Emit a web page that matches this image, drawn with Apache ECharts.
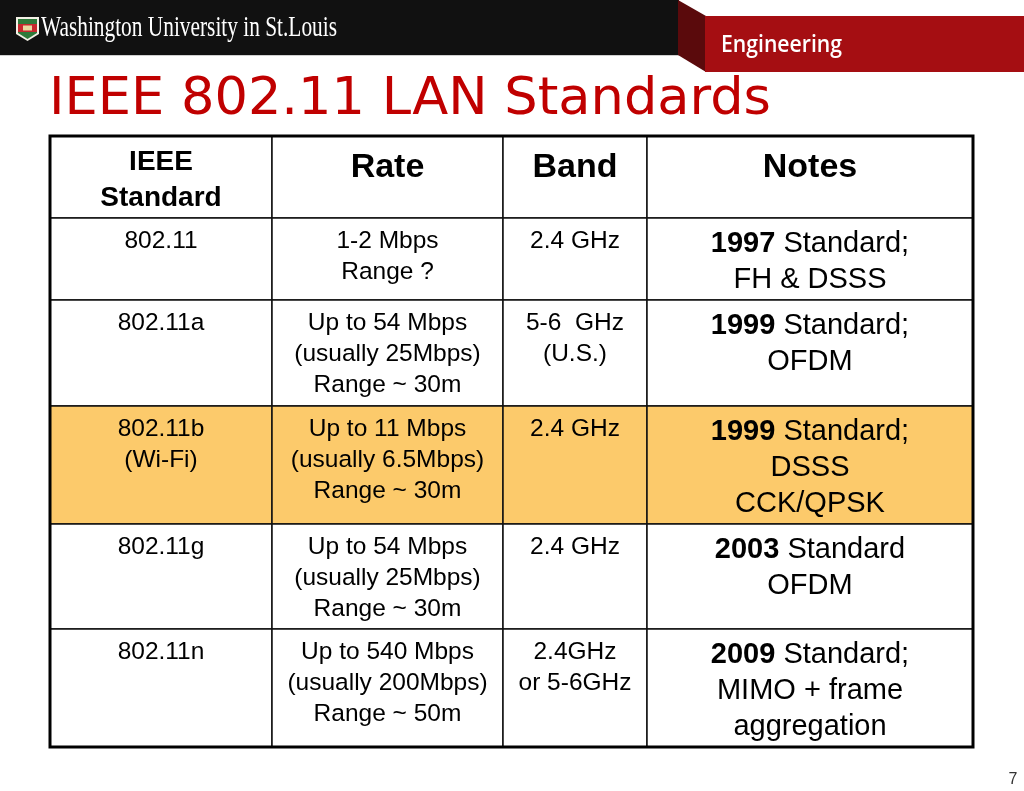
<!DOCTYPE html>
<html>
<head>
<meta charset="utf-8">
<script src="https://cdn.jsdelivr.net/npm/echarts@6/dist/echarts.min.js"></script>
<style>
html,body{margin:0;padding:0;background:#fff;}
#chart{width:1024px;height:791px;}
</style>
</head>
<body>
<div id="chart"></div>
<script>
// ---- data ----
const headers = ['IEEE\nStandard', 'Rate', 'Band', 'Notes'];
const standards = ['802.11', '802.11a', '802.11b\n(Wi-Fi)', '802.11g', '802.11n'];
const rates = [
  '1-2 Mbps\nRange ?',
  'Up to 54 Mbps\n(usually 25Mbps)\nRange ~ 30m',
  'Up to 11 Mbps\n(usually 6.5Mbps)\nRange ~ 30m',
  'Up to 54 Mbps\n(usually 25Mbps)\nRange ~ 30m',
  'Up to 540 Mbps\n(usually 200Mbps)\nRange ~ 50m'
];
const bands = ['2.4 GHz', '5-6  GHz\n(U.S.)', '2.4 GHz', '2.4 GHz', '2.4GHz\nor 5-6GHz'];
const years = ['1997', '1999', '1999', '2003', '2009'];
const notesFirst = ['Standard;', 'Standard;', 'Standard;', 'Standard', 'Standard;'];
const notesRest = ['FH & DSSS', 'OFDM', 'DSSS\nCCK/QPSK', 'OFDM', 'MIMO + frame\naggregation'];
const highlighted = [false, false, true, false, false];
const titleText = 'IEEE 802.11 LAN Standards';
const pageNumber = '7';

// ---- layout ----
const colWidths = [222, 231, 144, 326];
const rowHeights = [82, 82, 106, 118, 105, 118];
const colEdges = [0]; colWidths.forEach(w => colEdges.push(colEdges[colEdges.length - 1] + w));
const rowEdges = [0]; rowHeights.forEach(h => rowEdges.push(rowEdges[rowEdges.length - 1] + h));
const TW = colEdges[colEdges.length - 1], TH = rowEdges[rowEdges.length - 1];

const SANS = '"Liberation Sans", Arial, sans-serif';

function measure(text, font) {
  const c = document.createElement('canvas').getContext('2d');
  c.font = font;
  return c.measureText(text).width;
}

const cells = [];
for (let r = 0; r < rowHeights.length; r++) for (let c = 0; c < colWidths.length; c++) cells.push([c, r]);

function cellText(c, r) {
  if (r === 0) return headers[c];
  const i = r - 1;
  if (c === 0) return standards[i];
  if (c === 1) return rates[i];
  if (c === 2) return bands[i];
  return '{b|' + years[i] + '} ' + notesFirst[i] + '\n' + notesRest[i];
}

function renderCell(params, api) {
  const c = api.value(0), r = api.value(1);
  const p0 = api.coord([colEdges[c], rowEdges[r]]);
  const p1 = api.coord([colEdges[c + 1], rowEdges[r + 1]]);
  const x = p0[0], y = p0[1], w = p1[0] - p0[0], h = p1[1] - p0[1];
  const fill = (r > 0 && highlighted[r - 1]) ? '#fcca6b' : '#ffffff';
  let style;
  if (r === 0) {
    style = c === 0
      ? { fontSize: 28, fontWeight: 'bold', lineHeight: 36, off: 8.5 }
      : { fontSize: 34, fontWeight: 'bold', lineHeight: 36, off: 14 };
  } else if (c < 3) {
    style = { fontSize: 24.5, fontWeight: 'normal', lineHeight: 31, off: 8 };
  } else {
    style = { fontSize: 29, fontWeight: 'normal', lineHeight: 36, off: 8 };
  }
  return {
    type: 'group',
    children: [
      { type: 'rect', shape: { x: x, y: y, width: w, height: h },
        style: { fill: fill, stroke: '#111', lineWidth: 1.5 } },
      { type: 'text', x: x + w / 2, y: y + style.off,
        style: {
          text: cellText(c, r), fill: '#000', fontFamily: SANS,
          fontSize: style.fontSize, fontWeight: style.fontWeight, lineHeight: style.lineHeight,
          align: 'center', verticalAlign: 'top',
          rich: { b: { fontWeight: 'bold', fontSize: style.fontSize, lineHeight: style.lineHeight, fontFamily: SANS, fill: '#000' } }
        } }
    ]
  };
}

function renderFrame(params, api) {
  const p0 = api.coord([0, 0]), p1 = api.coord([TW, TH]);
  return { type: 'rect', shape: { x: p0[0], y: p0[1], width: p1[0] - p0[0], height: p1[1] - p0[1] },
    style: { fill: 'none', stroke: '#000', lineWidth: 3 } };
}

// header texts, fitted widths
const wuFont = '30px "Liberation Serif", serif';
const wuText = 'Washington University in St.Louis';
const wuScale = 296 / measure(wuText, wuFont);
const engFont = '600 24px "Open Sans", sans-serif';
const engScale = 121 / measure('Engineering', engFont);
const titleFont = '52px "DejaVu Sans", sans-serif';
const titleScale = 722 / measure(titleText, titleFont);

const chart = echarts.init(document.getElementById('chart'), null, { renderer: 'canvas' });
chart.setOption({
  backgroundColor: '#ffffff',
  animation: false,
  grid: { left: 50, top: 136, width: TW, height: TH },
  xAxis: { type: 'value', min: 0, max: TW, show: false },
  yAxis: { type: 'value', min: 0, max: TH, inverse: true, show: false },
  graphic: [
    { type: 'rect', shape: { x: 0, y: 0, width: 679, height: 55 }, style: { fill: '#111111' } },
    { type: 'rect', shape: { x: 0, y: 55, width: 679, height: 1 }, style: { fill: '#cfcfcf' } },
    { type: 'polygon', shape: { points: [[678, 0], [706, 16], [706, 72], [678, 55]] }, style: { fill: '#5a0a0c' } },
    { type: 'rect', shape: { x: 705, y: 16, width: 319, height: 56 }, style: { fill: '#a50e12' } },
    // shield
    { type: 'polygon', shape: { points: [[16, 17], [39, 17], [39, 34], [27.5, 41], [16, 34]] }, style: { fill: '#f4f1e6' } },
    { type: 'polygon', shape: { points: [[18, 19], [37, 19], [37, 33], [27.5, 39], [18, 33]] }, style: { fill: '#2f7a3a' } },
    { type: 'rect', shape: { x: 18, y: 24, width: 19, height: 8 }, style: { fill: '#c8282e' } },
    { type: 'rect', shape: { x: 23, y: 25.5, width: 9, height: 5 }, style: { fill: '#e8d9a0' } },
    { type: 'text', x: 41, y: 28, scaleX: wuScale,
      style: { text: wuText, font: wuFont, fill: '#ffffff', align: 'left', verticalAlign: 'middle' } },
    { type: 'text', x: 721, y: 45, scaleX: engScale,
      style: { text: 'Engineering', font: engFont, fill: '#ffffff', align: 'left', verticalAlign: 'middle' } },
    { type: 'text', x: 49, y: 100, scaleX: titleScale,
      style: { text: titleText, font: titleFont, fill: '#c00000', align: 'left', verticalAlign: 'middle' } },
    { type: 'text', x: 1013, y: 780,
      style: { text: pageNumber, font: '16px "Liberation Sans", Arial, sans-serif', fill: '#333', align: 'center', verticalAlign: 'middle' } }
  ],
  series: [
    { type: 'custom', coordinateSystem: 'cartesian2d', renderItem: renderCell, data: cells, silent: true, clip: false },
    { type: 'custom', coordinateSystem: 'cartesian2d', renderItem: renderFrame, data: [[0, 0]], silent: true, clip: false, z: 5 }
  ]
});
</script>
</body>
</html>
